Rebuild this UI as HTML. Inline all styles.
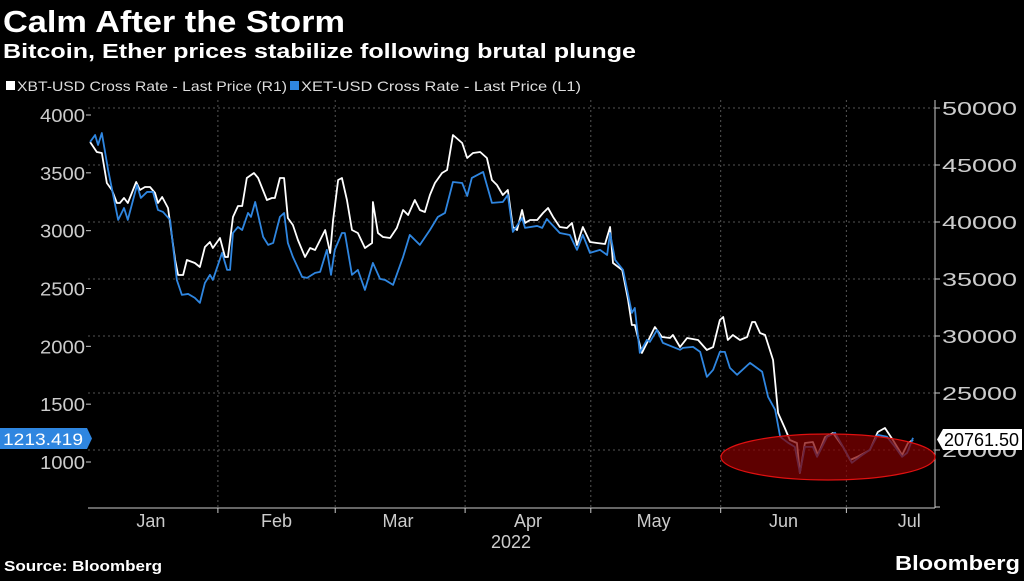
<!DOCTYPE html>
<html><head><meta charset="utf-8"><style>
html,body{margin:0;padding:0;background:#000;}
body{width:1024px;height:576px;overflow:hidden;font-family:"Liberation Sans",sans-serif;}
</style></head><body>
<svg id="chart" width="1024" height="576" viewBox="0 0 1024 576" xmlns="http://www.w3.org/2000/svg" font-family="Liberation Sans, sans-serif">
<rect width="1024" height="576" fill="#000"/>
<text x="3" y="32" fill="#fff" font-size="31" font-weight="bold" textLength="342" lengthAdjust="spacingAndGlyphs">Calm After the Storm</text>
<text x="3" y="58" fill="#fff" font-size="20" font-weight="bold" textLength="633" lengthAdjust="spacingAndGlyphs">Bitcoin, Ether prices stabilize following brutal plunge</text>
<g>
<g><rect x="6" y="81" width="9" height="9" fill="#fff"/><text x="17" y="91" fill="#ddd" font-size="14" textLength="270" lengthAdjust="spacingAndGlyphs">XBT-USD Cross Rate - Last Price (R1)</text></g>
<g><rect x="290" y="81" width="9" height="9" fill="#2f86e0"/><text x="301" y="91" fill="#ddd" font-size="14" textLength="280" lengthAdjust="spacingAndGlyphs">XET-USD Cross Rate - Last Price (L1)</text></g>
</g>
<g id="grid"></g>
<g id="axes"></g>
<g id="series"></g>
<text x="4" y="571" fill="#fff" font-size="15" font-weight="bold" textLength="158" lengthAdjust="spacingAndGlyphs">Source: Bloomberg</text>
<text x="895" y="570" fill="#fff" font-size="20" font-weight="bold" textLength="125" lengthAdjust="spacingAndGlyphs">Bloomberg</text>
</svg>
<script>
const monthLabels = ["Jan","Feb","Mar","Apr","May","Jun","Jul"];
const monthMidDays = [15,45,74,105,135,166,196];
const monthStartDays = [31,59,90,120,151,181];
const leftTicks = [1000,1500,2000,2500,3000,3500,4000];
const rightTicks = [20000,25000,30000,35000,40000,45000,50000];
const ethDays = [0.5,1.7,2.4,3.3,4.8,7.2,8.6,9.5,11.7,12.6,14.1,15.5,16.7,17.9,19.6,21.2,22.4,23.9,25.5,26.7,27.9,29.1,29.8,32.0,33.2,33.9,34.6,35.8,36.8,38.2,38.9,39.9,41.8,43.0,44.2,45.8,46.8,47.7,48.9,51.1,52.3,54.2,55.4,57.0,58.0,58.9,60.6,61.3,63.0,64.4,66.1,68.0,69.7,70.9,72.8,75.2,76.8,79.2,81.6,83.5,85.2,87.1,89.3,90.5,91.6,94.3,96.4,99.0,100.2,101.4,103.6,104.3,107.2,108.4,109.5,112.6,115.0,116.7,118.1,119.8,122.2,123.9,124.6,125.8,127.7,129.8,130.5,131.7,133.4,134.1,135.8,137.2,139.6,141.3,142.0,144.4,146.1,147.7,149.2,150.8,152.0,153.2,154.9,158.0,160.9,162.3,164.0,165.2,167.1,168.7,169.9,171.1,173.0,174.0,176.4,178.3,180.2,182.3,184.2,186.6,188.5,190.7,192.6,194.3,195.5,196.9];
const ethVals = [3767,3827,3741,3844,3525,3093,3196,3093,3395,3283,3335,3335,3179,3162,3093,2574,2445,2453,2419,2376,2548,2618,2574,2808,2661,2661,2980,3032,3006,3153,3119,3248,2946,2877,2894,3119,3153,2894,2773,2600,2592,2635,2644,2834,2618,2834,2980,2980,2618,2661,2488,2721,2583,2574,2531,2773,2963,2877,3006,3119,3153,3421,3412,3300,3456,3508,3240,3248,3309,2989,3110,3024,3041,3024,3101,2980,2963,2834,2963,2808,2834,2790,2980,2747,2661,2289,2332,1944,2056,2039,2142,2030,1995,1970,1987,1995,1952,1736,1797,1952,1952,1814,1754,1857,1780,1564,1451,1218,1166,1131,907,1131,1131,1045,1218,1252,1131,993,1045,1106,1235,1218,1131,1045,1080,1209];
const btcDays = [0.5,2.1,3.3,4.5,5.7,6.9,7.6,8.6,9.5,11.5,12.4,13.6,14.8,16.0,16.7,17.7,19.1,20.8,21.5,22.7,23.6,25.5,26.7,27.9,29.1,29.8,31.5,32.7,33.4,34.6,35.8,36.8,37.9,39.6,40.6,42.7,43.9,44.6,45.8,46.8,47.7,48.9,50.1,51.8,53.0,54.2,56.6,57.8,58.5,59.7,60.6,61.8,63.0,64.4,66.1,67.8,68.0,69.2,70.4,72.1,73.7,75.2,76.4,78.0,79.2,80.4,81.6,82.8,84.5,85.7,87.1,89.3,90.5,91.9,93.6,95.2,96.4,97.6,99.0,100.2,101.4,102.4,103.6,104.3,105.5,107.2,108.6,109.8,111.0,112.6,114.3,115.5,116.7,118.1,119.8,121.5,123.4,124.6,125.3,127.5,128.9,129.8,130.5,132.2,133.4,135.3,137.0,138.9,139.6,141.3,143.0,145.6,147.7,149.2,150.8,151.6,152.7,153.9,155.6,157.3,158.5,159.2,160.4,161.6,163.5,164.7,166.3,167.5,169.2,169.9,171.1,173.0,174.2,175.9,177.8,180.2,181.9,183.5,186.6,188.5,190.2,192.1,194.3,195.7,196.9];
const btcVals = [47017,46140,46053,43421,42807,41667,41667,42105,41667,43509,42807,43070,43070,42544,41667,42193,41228,36667,35351,35351,36667,36404,36053,37807,38246,37719,38596,36930,36930,40439,41404,41404,43860,44298,43860,41930,42105,42105,43860,43860,40351,39737,38421,36930,37719,37544,39298,37281,40175,43684,43860,41930,39298,39035,37719,38158,41754,39035,38684,38596,39474,41053,40614,41930,41053,40877,42368,43421,44298,44561,47632,46930,45614,46053,46140,45614,43684,43246,42368,42807,39561,39298,41053,39912,40175,40175,40789,41228,40439,39561,39474,39912,37982,39561,38246,38158,38070,39561,36404,35789,33158,30965,30965,28509,29386,30789,29912,29825,30088,29035,29825,29649,28772,29035,31404,31667,29649,30088,29649,29912,31228,31228,30263,30088,27895,23246,21930,20877,20614,17982,20614,20702,19561,21140,21491,20263,19123,19386,20000,21579,21930,20877,19561,20614,20877];
const lastEth = "1213.419";
const lastBtc = "20761.50";

const NS = "http://www.w3.org/2000/svg";
const X0 = 88, PXD = 4.19, TOP = 100, BOT = 508, RIGHT = 935;
const xS = d => X0 + d * PXD;
const yL = v => 462 - (v - 1000) * (347 / 3000);
const yR = v => 450 - (v - 20000) * (342 / 30000);
function mk(tag, attrs, parent) {
  const e = document.createElementNS(NS, tag);
  for (const k in attrs) e.setAttribute(k, attrs[k]);
  parent.appendChild(e);
  return e;
}
const grid = document.getElementById('grid');
const axes = document.getElementById('axes');
const series = document.getElementById('series');

rightTicks.forEach(t => {
  const y = yR(t);
  const gl = mk('line', {x1: X0, x2: RIGHT, y1: y, y2: y, stroke: '#555', 'stroke-dasharray': '2,3', 'stroke-width': 1}, grid);
  
  
  const tk = mk('line', {x1: RIGHT, x2: RIGHT + 5, y1: y, y2: y, stroke: '#ccc'}, axes);
  
  
  const tx = mk('text', {x: 942, y: y + 7, fill: '#ccc', 'font-size': 18, textLength: 75, lengthAdjust: 'spacingAndGlyphs'}, axes);
  tx.textContent = t;
  
  
});
[15000].forEach(t => {
  const tk = mk('line', {x1: RIGHT, x2: RIGHT + 5, y1: yR(t), y2: yR(t), stroke: '#ccc'}, axes);
  
  
});
leftTicks.forEach(t => {
  const y = yL(t);
  const tx = mk('text', {x: 40, y: y + 7, fill: '#ccc', 'font-size': 18, textLength: 45, lengthAdjust: 'spacingAndGlyphs'}, axes);
  tx.textContent = t;
  
  
  const tk = mk('line', {x1: 86, x2: 91, y1: y, y2: y, stroke: '#ccc'}, axes);
  
  
});
monthStartDays.forEach(d => {
  const x = xS(d);
  const gl = mk('line', {x1: x, x2: x, y1: TOP, y2: BOT, stroke: '#555', 'stroke-dasharray': '2,3'}, grid);
  
  
  const tk = mk('line', {x1: x, x2: x, y1: BOT, y2: BOT + 5, stroke: '#ccc'}, axes);
  
  
});
monthLabels.forEach((m, i) => {
  const tx = mk('text', {x: xS(monthMidDays[i]), y: 527, fill: '#ccc', 'font-size': 18, 'text-anchor': 'middle'}, axes);
  tx.textContent = m;
  
  
});
const yr = mk('text', {x: 511, y: 548, fill: '#ccc', 'font-size': 18, 'text-anchor': 'middle'}, axes);
yr.textContent = '2022';


const ax1 = mk('line', {x1: RIGHT, x2: RIGHT, y1: TOP, y2: BOT, stroke: '#ccc'}, axes);


const ax2 = mk('line', {x1: X0, x2: RIGHT, y1: BOT, y2: BOT, stroke: '#ccc'}, axes);



const wp = mk('polyline', {points: btcDays.map((d, i) => xS(d) + ',' + yR(btcVals[i])).join(' '), fill: 'none', stroke: '#fff', 'stroke-width': 1.8, 'stroke-linejoin': 'round'}, series);


const bp = mk('polyline', {points: ethDays.map((d, i) => xS(d) + ',' + yL(ethVals[i])).join(' '), fill: 'none', stroke: '#2f86e0', 'stroke-width': 1.8, 'stroke-linejoin': 'round'}, series);



const el = mk('ellipse', {cx: 828, cy: 457, rx: 107, ry: 23, fill: 'rgba(130,0,0,0.72)', stroke: '#e01010', 'stroke-width': 1.2}, series);



const lb = mk('g', {}, axes);


mk('rect', {x: 0, y: 428, width: 87, height: 21, fill: '#2f86e0'}, lb);
mk('polygon', {points: '87,428 92,438.5 87,449', fill: '#2f86e0'}, lb);
const lt = mk('text', {x: 3, y: 445, fill: '#fff', 'font-size': 17, textLength: 80, lengthAdjust: 'spacingAndGlyphs'}, lb);
lt.textContent = lastEth;

const rb = mk('g', {}, axes);


mk('polygon', {points: '937,439.5 943,429 1022,429 1022,450 943,450', fill: '#fff'}, rb);
const rt = mk('text', {x: 944, y: 446, fill: '#000', 'font-size': 18, textLength: 75, lengthAdjust: 'spacingAndGlyphs'}, rb);
rt.textContent = lastBtc;
</script>
</body></html>
